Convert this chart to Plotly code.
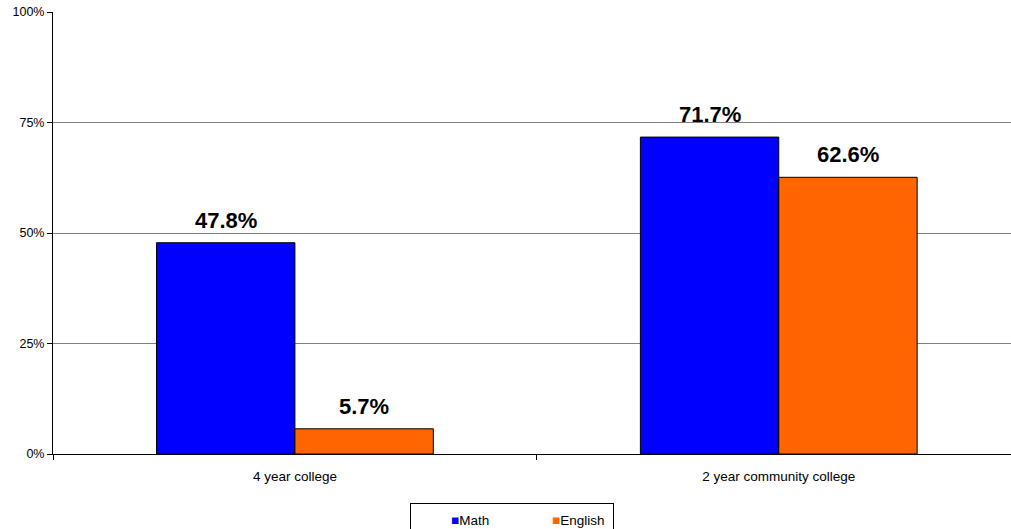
import plotly.graph_objects as go

categories = ["4 year college", "2 year community college"]
math_values = [0.478, 0.717]
english_values = [0.057, 0.626]
math_labels = ["47.8%", "71.7%"]
english_labels = ["5.7%", "62.6%"]
y_tick_values = [0, 0.25, 0.5, 0.75, 1.0]
y_tick_labels = ["0%", "25%", "50%", "75%", "100%"]

MATH_COLOR = "#0000FF"
ENGLISH_COLOR = "#FF6600"
FONT = "Liberation Sans, Arial, sans-serif"

fig = go.Figure()
fig.add_trace(go.Bar(x=categories, y=math_values, name="Math",
                     marker=dict(color=MATH_COLOR, line=dict(color="black", width=1)),
                     showlegend=False))
fig.add_trace(go.Bar(x=categories, y=english_values, name="English",
                     marker=dict(color=ENGLISH_COLOR, line=dict(color="black", width=1)),
                     showlegend=False))
# legend entries (coloured square drawn as a glyph in the legend text)
for nm, col in [("Math", MATH_COLOR), ("English", ENGLISH_COLOR)]:
    fig.add_trace(go.Scatter(x=[None], y=[None], mode="markers",
                             name=f'<span style="color:{col}">■</span>{nm}',
                             marker=dict(symbol="square", size=1, color="rgba(0,0,0,0)",
                                         line=dict(color="rgba(0,0,0,0)", width=0))))

# value labels
for i, cat in enumerate(categories):
    for vals, labs, shift in [(math_values, math_labels, -69), (english_values, english_labels, 69)]:
        fig.add_annotation(x=i, y=vals[i], xref="x", yref="y", text=labs[i],
                           showarrow=False, xshift=shift, yshift=8, yanchor="bottom",
                           font=dict(family=FONT, size=22, color="black", weight="bold"))

fig.update_layout(
    width=1011, height=529,
    margin=dict(l=53, r=0, t=12, b=75),
    paper_bgcolor="white", plot_bgcolor="white",
    barmode="group", bargap=0.428, bargroupgap=0,
    font=dict(family=FONT, size=12, color="black"),
    legend=dict(orientation="h", xref="paper", x=(512 - 53) / 958, xanchor="center",
                yref="container", y=1 - 503 / 529, yanchor="top",
                bordercolor="black", borderwidth=1, bgcolor="white",
                font=dict(size=13.5, color="black"), entrywidth=56, itemwidth=30),
    xaxis=dict(range=[-0.5, 1.48], showline=True, linecolor="black", linewidth=1,
               ticks="outside", tickson="boundaries", ticklen=5, tickcolor="black",
               ticklabelstandoff=10, tickfont=dict(size=13.5),
               showgrid=False, zeroline=False),
    yaxis=dict(range=[0, 1], tickvals=y_tick_values, ticktext=y_tick_labels,
               showline=True, linecolor="black", linewidth=1,
               ticks="outside", ticklen=5, tickcolor="black", tickfont=dict(size=12.5),
               showgrid=True, gridcolor="#808080", gridwidth=1, zeroline=False),
)

fig.write_html("out.html", config={"displayModeBar": False},
               post_script="document.body.style.margin='0';document.documentElement.style.overflow='hidden';")
